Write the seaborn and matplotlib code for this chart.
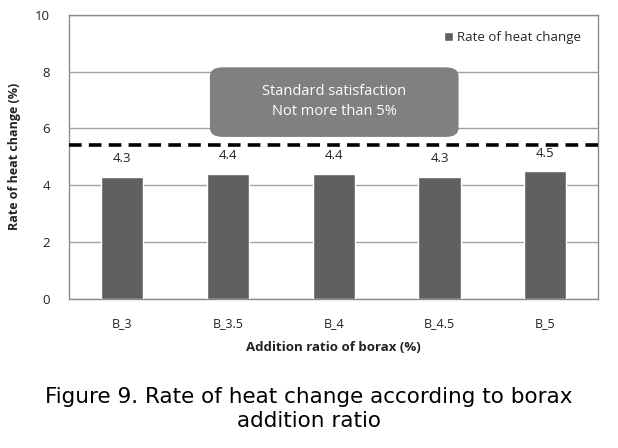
import matplotlib
matplotlib.use("Agg")
import matplotlib.pyplot as plt
import seaborn as sns
import pandas as pd
from matplotlib.patches import FancyBboxPatch, Patch

categories = ["B_3", "B_3.5", "B_4", "B_4.5", "B_5"]
values = [4.3, 4.4, 4.4, 4.3, 4.5]
value_labels = ["4.3", "4.4", "4.4", "4.3", "4.5"]
yticks = [0, 2, 4, 6, 8, 10]
limit_line = 5.42
series_name = "Rate of heat change"

sns.set_theme(style="white")
plt.rcParams['font.family'] = ['Open Sans', 'DejaVu Sans']

df = pd.DataFrame({"cat": categories, "val": values})

fig = plt.figure(figsize=(6.18, 4.48), dpi=100)
ax = fig.add_axes([0.112, 0.333, 0.856, 0.634])

sns.barplot(data=df, x="cat", y="val", color="#606060", width=0.4, ax=ax,
            saturation=1, zorder=3)

ax.set_ylim(0, 10)
ax.set_xlim(-0.5, 4.5)
ax.set_yticks(yticks)
ax.set_yticklabels([str(t) for t in yticks], fontsize=9.5, color="#222222")
ax.tick_params(axis="y", length=0, pad=14)
ax.tick_params(axis="x", length=0, pad=13, labelsize=9, labelcolor="#222222")
ax.yaxis.grid(True, color="#a0a0a0", linewidth=1, zorder=0)
for s in ax.spines.values():
    s.set_color("#8c8c8c")
    s.set_linewidth(1)

ax.set_xlabel("Addition ratio of borax (%)", fontsize=9.5, fontweight="bold",
              labelpad=8, color="#222222")
ax.set_ylabel("Rate of heat change (%)", fontsize=9, fontweight="bold",
              labelpad=10, color="#222222")

for i, (v, lab) in enumerate(zip(values, value_labels)):
    ax.text(i, v + 0.4, lab, ha="center", va="bottom", fontsize=9.5,
            color="#222222")

ax.axhline(limit_line, color="black", linestyle=(0, (3.5, 2)), linewidth=2.6,
           zorder=4)

box = FancyBboxPatch((0.83, 5.7), 2.35, 2.45,
                     boxstyle="round,pad=0,rounding_size=0.12",
                     mutation_aspect=2.6,
                     facecolor="#808080", edgecolor="none", zorder=5)
ax.add_patch(box)
ax.text(2.005, 6.95, "Standard satisfaction\nNot more than 5%", ha="center",
        va="center", color="white", fontsize=10.5, linespacing=1.45, zorder=6)

leg = ax.legend(handles=[Patch(facecolor="#606060", label=series_name)],
                loc="upper right", bbox_to_anchor=(0.99, 0.985), frameon=False,
                fontsize=9.5, handlelength=0.7, handleheight=0.7,
                handletextpad=0.3)

fig.text(0.5, 0.087, "Figure 9. Rate of heat change according to borax\naddition ratio",
         ha="center", va="center", fontsize=15.5, linespacing=1.2, color="black",
         family=['Liberation Sans Narrow', 'DejaVu Sans'])

fig.savefig("out.png", dpi=100, facecolor="white")
